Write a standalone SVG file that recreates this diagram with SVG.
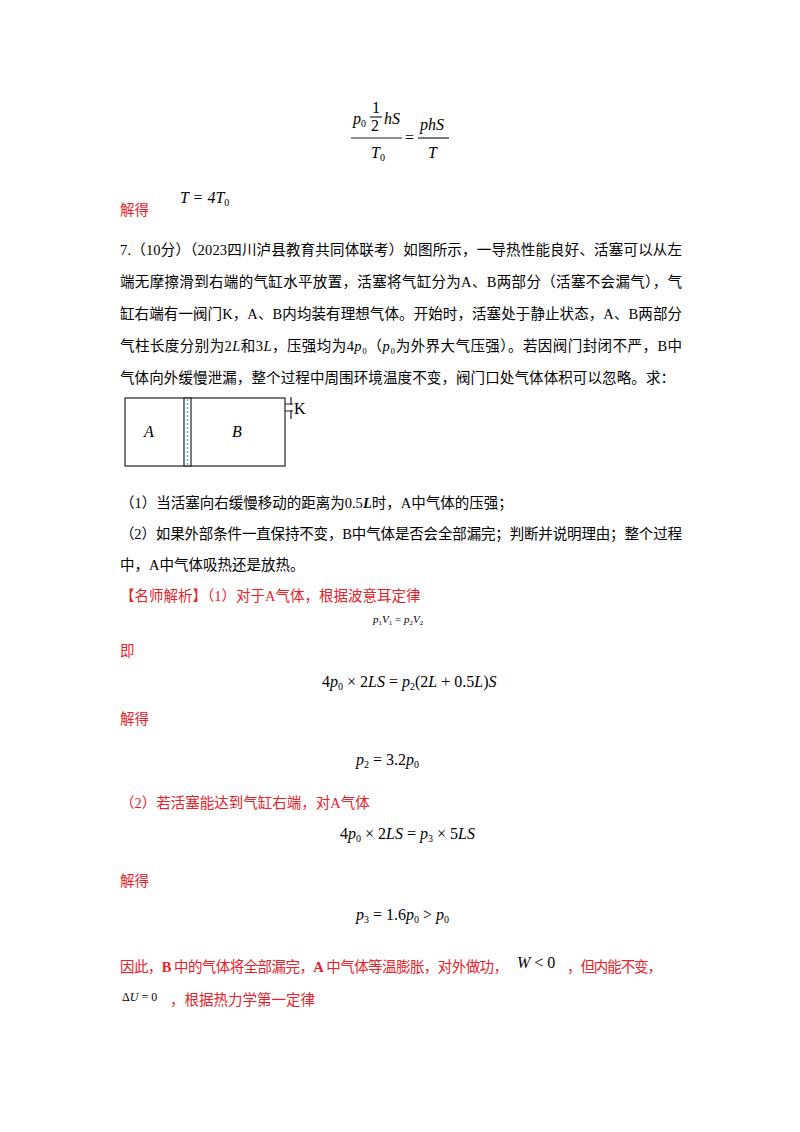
<svg xmlns="http://www.w3.org/2000/svg" width="800" height="1132" viewBox="0 0 800 1132">
<style>
.t{font-family:"Liberation Serif","Noto Sans CJK SC",serif;font-size:14.5px;fill:#000}
.r{font-family:"Liberation Serif","Noto Sans CJK SC",serif;font-size:14.5px;fill:#e8222a}
.m{font-family:"Liberation Serif",serif;font-style:italic;font-size:16px;fill:#000}
.s{font-size:10px;font-style:normal}
.ln{stroke:#222;stroke-width:1.2;fill:none}
</style>
<rect width="800" height="1132" fill="#fff"/>
<g id="formula-top">
<text class="m" x="353" y="124">p<tspan class="s" dy="3">0</tspan></text>
<text class="m" x="372" y="113" style="font-style:normal">1</text>
<line class="ln" x1="370" y1="117" x2="382" y2="117"/>
<text class="m" x="371" y="131" style="font-style:normal">2</text>
<text class="m" x="384" y="124">hS</text>
<line class="ln" x1="351" y1="138" x2="402" y2="138"/>
<text class="m" x="371" y="158">T<tspan class="s" dy="3">0</tspan></text>
<text class="m" x="405" y="143" style="font-style:normal">=</text>
<text class="m" x="420" y="130">phS</text>
<line class="ln" x1="418" y1="138" x2="449" y2="138"/>
<text class="m" x="428" y="158">T</text>
</g>
<text class="r" x="120" y="215">解得</text>
<text class="m" x="180" y="203">T = 4T<tspan class="s" dy="3">0</tspan></text>
<text class="t" x="120" y="255" textLength="562">7.（10分）（2023四川泸县教育共同体联考）如图所示，一导热性能良好、活塞可以从左</text>
<text class="t" x="120" y="287" textLength="562">端无摩擦滑到右端的气缸水平放置，活塞将气缸分为A、B两部分（活塞不会漏气），气</text>
<text class="t" x="120" y="319" textLength="562">缸右端有一阀门K，A、B内均装有理想气体。开始时，活塞处于静止状态，A、B两部分</text>
<text class="t" x="120" y="351" textLength="562">气柱长度分别为2<tspan font-style="italic">L</tspan>和3<tspan font-style="italic">L</tspan>，压强均为4<tspan font-style="italic">p</tspan>₀（<tspan font-style="italic">p</tspan>₀为外界大气压强）。若因阀门封闭不严，B中</text>
<text class="t" x="120" y="383" textLength="555">气体向外缓慢泄漏，整个过程中周围环境温度不变，阀门口处气体体积可以忽略。求：</text>
<g id="cylinder">
<rect class="ln" x="125" y="398" width="160" height="68"/>
<rect x="184" y="398" width="7" height="68" fill="#fff" stroke="#222" stroke-width="1.2"/>
<line x1="187.5" y1="399" x2="187.5" y2="465" stroke="#4ab3d8" stroke-width="1.5" stroke-dasharray="2,2"/>
<path class="ln" d="M285 404 h8 M285 411 h8 M291 397 v8 M291 410 v9"/>
<text class="t" x="294" y="414" style="font-size:16px">K</text>
<text class="m" x="144" y="437">A</text>
<text class="m" x="232" y="437">B</text>
</g>
<text class="t" x="120" y="508">（1）当活塞向右缓慢移动的距离为0.5<tspan font-style="italic" font-weight="bold">L</tspan>时，A中气体的压强；</text>
<text class="t" x="120" y="539" textLength="562">（2）如果外部条件一直保持不变，B中气体是否会全部漏完；判断并说明理由；整个过程</text>
<text class="t" x="120" y="570">中，A中气体吸热还是放热。</text>
<text class="r" x="120" y="601">【名师解析】（1）对于A气体，根据波意耳定律</text>
<text class="m" x="373" y="623" style="font-size:11px">p<tspan class="s" dy="2" style="font-size:7px">1</tspan><tspan dy="-2">V</tspan><tspan dy="2" style="font-size:7px;font-style:normal">1</tspan><tspan dy="-2" style="font-style:normal"> = </tspan>p<tspan dy="2" style="font-size:7px;font-style:normal">2</tspan><tspan dy="-2">V</tspan><tspan dy="2" style="font-size:7px;font-style:normal">2</tspan></text>
<text class="r" x="120" y="656">即</text>
<text class="m" x="322" y="687"><tspan style="font-style:normal">4</tspan>p<tspan class="s" dy="3">0</tspan><tspan dy="-3" style="font-style:normal"> × 2</tspan>LS<tspan style="font-style:normal"> = </tspan>p<tspan class="s" dy="3">2</tspan><tspan dy="-3" style="font-style:normal">(2</tspan>L<tspan style="font-style:normal"> + 0.5</tspan>L<tspan style="font-style:normal">)</tspan>S</text>
<text class="r" x="120" y="724">解得</text>
<text class="m" x="356" y="765">p<tspan class="s" dy="3">2</tspan><tspan dy="-3" style="font-style:normal"> = 3.2</tspan>p<tspan class="s" dy="3">0</tspan></text>
<text class="r" x="120" y="808">（2）若活塞能达到气缸右端，对A气体</text>
<text class="m" x="340" y="839"><tspan style="font-style:normal">4</tspan>p<tspan class="s" dy="3">0</tspan><tspan dy="-3" style="font-style:normal"> × 2</tspan>LS<tspan style="font-style:normal"> = </tspan>p<tspan class="s" dy="3">3</tspan><tspan dy="-3" style="font-style:normal"> × 5</tspan>LS</text>
<text class="r" x="120" y="886">解得</text>
<text class="m" x="356" y="920">p<tspan class="s" dy="3">3</tspan><tspan dy="-3" style="font-style:normal"> = 1.6</tspan>p<tspan class="s" dy="3">0</tspan><tspan dy="-3" style="font-style:normal"> &gt; </tspan>p<tspan class="s" dy="3">0</tspan></text>
<text class="r" x="120" y="972" textLength="388">因此，<tspan font-weight="bold">B</tspan> 中的气体将全部漏完，<tspan font-weight="bold">A</tspan> 中气体等温膨胀，对外做功，</text>
<text class="m" x="517" y="968">W<tspan style="font-style:normal"> &lt; 0</tspan></text>
<text class="r" x="567" y="972" textLength="95">，但内能不变，</text>
<text class="m" x="122" y="1001" style="font-size:12px"><tspan style="font-style:normal">Δ</tspan>U<tspan style="font-style:normal"> = 0</tspan></text>
<text class="r" x="170" y="1005">，根据热力学第一定律</text>
</svg>
